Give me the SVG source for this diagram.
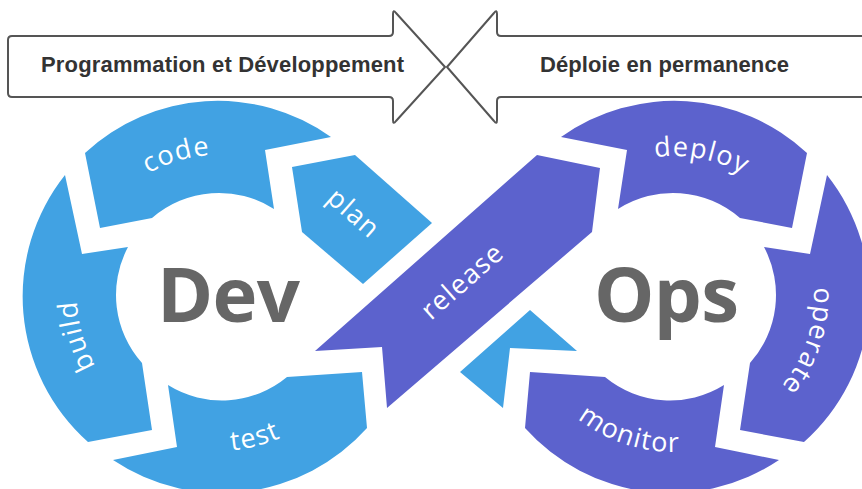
<svg xmlns="http://www.w3.org/2000/svg" width="862" height="489" viewBox="0 0 862 489">
<style>
.dev{fill:#41A2E3}
.ops{fill:#5C62CD}
.lbl{font-family:"Open Sans","Liberation Sans",sans-serif;font-size:27px;fill:#fff;letter-spacing:1.2px}
.big{font-family:"Open Sans","Liberation Sans",sans-serif;font-weight:700;font-size:76px;fill:#666}
.hdr{font-family:"Liberation Sans",Arial,sans-serif;font-weight:700;font-size:22px;fill:#333}
.arrow{fill:#fff;stroke:#555;stroke-width:2;stroke-linejoin:round}
</style>
<defs>
<path id="p-code" d="M100.5,218 A141,141 0 0 1 274.4,166.8"/>
<path id="p-build" d="M138.5,412.5 A141,141 0 0 1 89.5,238"/>
<path id="p-test" d="M151.5,436 A155,155 0 0 0 344.3,385.8"/>
<path id="p-deploy" d="M606.1,173.6 A140,140 0 0 1 782.8,207.9"/>
<path id="p-operate" d="M804.3,244.7 A140,140 0 0 1 747.2,415.4"/>
<path id="p-monitor" d="M541.7,378.7 A156,156 0 0 0 732.4,440.6"/>
</defs>
<rect width="862" height="489" fill="#fff"/>
<g id="arrow-dev">
<path class="arrow" d="M12,36 L389,36 Q393,36 393,32 L393,14 Q393,9 396,13 L445,67 L396,121 Q393,125 393,120 L393,101 Q393,97 389,97 L12,97 Q8,97 8,93 L8,40 Q8,36 12,36 Z"/>
<text class="hdr" x="41" y="72" textLength="363">Programmation et Développement</text>
</g>
<g id="arrow-ops">
<path class="arrow" d="M872,36 L501,36 Q497,36 497,32 L497,14 Q497,9 494,13 L447,67 L494,121 Q497,125 497,120 L497,101 Q497,97 501,97 L872,97 Z"/>
<text class="hdr" x="540" y="72" textLength="249">Déploie en permanence</text>
</g>
<g id="code">
<path class="dev" d="M85,153 A195,195 0 0 1 331,137 L265,150 L274,209 A102,102 0 0 0 152,218 L100,228 Z"/>
<text class="lbl" text-anchor="middle"><textPath href="#p-code" startOffset="50%">code</textPath></text>
</g>
<g id="build">
<path class="dev" d="M65,175 A195,195 0 0 0 88,442 L152,430 L142,363 A102,102 0 0 1 128,247 L82,254 Z"/>
<text class="lbl" text-anchor="middle"><textPath href="#p-build" startOffset="50%">build</textPath></text>
</g>
<g id="test">
<path class="dev" d="M113,460 L177,447 L168,385 A102,102 0 0 0 287,377 L362,372 L367,428 A195,195 0 0 1 113,460 Z"/>
<text class="lbl" text-anchor="middle"><textPath href="#p-test" startOffset="50%">test</textPath></text>
</g>
<g id="plan">
<path class="dev" d="M292,167 L355,155 L432,223 L363,284 L302,232 Z"/>
<text class="lbl" text-anchor="middle" transform="translate(353,214) rotate(41.4)" x="0" y="8">plan</text>
</g>
<g id="plan-tail">
<path class="dev" d="M530,310 L577,351 L510,348 L503,408 L460,372 Z"/>
</g>
<g id="release">
<path class="ops" d="M537,155 L600,168 L592,232 L387,408 L382,347 L315,351 Z"/>
<text class="lbl" text-anchor="middle" transform="translate(463,282) rotate(-41.4)" x="0" y="8">release</text>
</g>
<g id="deploy">
<path class="ops" d="M807,153 A195,195 0 0 0 561,137 L627,150 L618,209 A102,102 0 0 1 740,218 L792,228 Z"/>
<text class="lbl" text-anchor="middle"><textPath href="#p-deploy" startOffset="50%">deploy</textPath></text>
</g>
<g id="operate">
<path class="ops" d="M827,175 A195,195 0 0 1 804,442 L740,430 L750,363 A102,102 0 0 0 764,247 L810,254 Z"/>
<text class="lbl" text-anchor="middle"><textPath href="#p-operate" startOffset="50%">operate</textPath></text>
</g>
<g id="monitor">
<path class="ops" d="M779,460 L715,447 L724,385 A102,102 0 0 1 605,377 L530,372 L525,428 A195,195 0 0 0 779,460 Z"/>
<text class="lbl" text-anchor="middle"><textPath href="#p-monitor" startOffset="50%">monitor</textPath></text>
</g>
<g id="dev-title"><text class="big" x="157" y="322" textLength="143">Dev</text></g>
<g id="ops-title"><text class="big" x="594" y="322" textLength="145">Ops</text></g>
<g id="connectors"></g>
</svg>
